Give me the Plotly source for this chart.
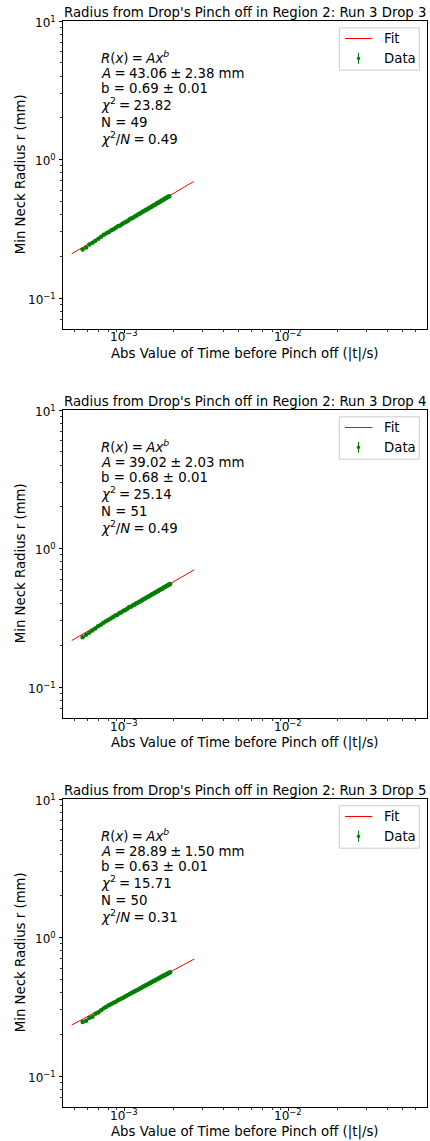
import math
import plotly.graph_objects as go

W, H = 430, 1141
FONT = "DejaVu Sans"

titles = [
    "Radius from Drop's Pinch off in Region 2: Run 3 Drop 3",
    "Radius from Drop's Pinch off in Region 2: Run 3 Drop 4",
    "Radius from Drop's Pinch off in Region 2: Run 3 Drop 5",
]
x_label = "Abs Value of Time before Pinch off (|t|/s)"
y_label = "Min Neck Radius r (mm)"

# ---- Data (time before pinch-off in ms, min neck radius in mm) ----
t1_ms = [0.557, 0.585, 0.612, 0.640, 0.667, 0.695, 0.722, 0.750, 0.778, 0.805,
         0.833, 0.860, 0.888, 0.915, 0.943, 0.971, 0.998, 1.026, 1.053, 1.081,
         1.108, 1.136, 1.164, 1.191, 1.219, 1.246, 1.274, 1.301, 1.329, 1.357,
         1.384, 1.412, 1.439, 1.467, 1.494, 1.522, 1.550, 1.577, 1.605, 1.632,
         1.660, 1.687, 1.715, 1.743, 1.770, 1.798, 1.825, 1.853, 1.880]
r1 = [0.224, 0.232, 0.243, 0.251, 0.259, 0.268, 0.277, 0.286, 0.294, 0.300,
      0.308, 0.314, 0.322, 0.330, 0.334, 0.343, 0.350, 0.355, 0.362, 0.370,
      0.376, 0.381, 0.389, 0.395, 0.402, 0.407, 0.414, 0.421, 0.426, 0.433,
      0.438, 0.445, 0.451, 0.456, 0.463, 0.469, 0.474, 0.481, 0.487, 0.492,
      0.498, 0.505, 0.510, 0.515, 0.522, 0.527, 0.532, 0.538, 0.543]

t2_ms = [0.557, 0.584, 0.611, 0.638, 0.665, 0.692, 0.719, 0.746, 0.773, 0.800,
         0.827, 0.854, 0.881, 0.908, 0.934, 0.961, 0.988, 1.015, 1.042, 1.069,
         1.096, 1.123, 1.150, 1.177, 1.204, 1.231, 1.258, 1.285, 1.312, 1.339,
         1.366, 1.393, 1.420, 1.447, 1.474, 1.501, 1.528, 1.555, 1.582, 1.609,
         1.635, 1.662, 1.689, 1.716, 1.743, 1.770, 1.797, 1.824, 1.851, 1.878,
         1.905]
r2 = [0.229, 0.238, 0.247, 0.256, 0.265, 0.275, 0.282, 0.291, 0.298, 0.306,
      0.313, 0.320, 0.329, 0.333, 0.342, 0.347, 0.356, 0.360, 0.368, 0.376,
      0.380, 0.388, 0.392, 0.401, 0.405, 0.413, 0.417, 0.425, 0.431, 0.435,
      0.443, 0.447, 0.455, 0.459, 0.467, 0.471, 0.478, 0.483, 0.490, 0.494,
      0.501, 0.505, 0.511, 0.517, 0.522, 0.528, 0.533, 0.538, 0.545, 0.549,
      0.554]

t3_ms = [0.557, 0.585, 0.612, 0.640, 0.667, 0.695, 0.722, 0.750, 0.777, 0.805,
         0.832, 0.860, 0.887, 0.915, 0.942, 0.970, 0.997, 1.025, 1.052, 1.080,
         1.107, 1.135, 1.162, 1.190, 1.217, 1.245, 1.272, 1.300, 1.327, 1.355,
         1.382, 1.410, 1.437, 1.465, 1.492, 1.520, 1.547, 1.575, 1.602, 1.630,
         1.657, 1.685, 1.712, 1.740, 1.767, 1.795, 1.822, 1.850, 1.877, 1.905]
r3 = [0.245, 0.251, 0.262, 0.268, 0.282, 0.287, 0.299, 0.308, 0.316, 0.324,
      0.331, 0.338, 0.344, 0.352, 0.358, 0.365, 0.371, 0.378, 0.385, 0.391,
      0.397, 0.404, 0.410, 0.416, 0.422, 0.429, 0.434, 0.441, 0.446, 0.453,
      0.458, 0.464, 0.469, 0.476, 0.481, 0.487, 0.492, 0.498, 0.503, 0.509,
      0.514, 0.520, 0.525, 0.531, 0.535, 0.541, 0.546, 0.551, 0.556, 0.561]

r_err = [0.006, 0.006, 0.006]  # error bar half-height (mm) per panel

# Fit lines (end points as drawn)
fit_t = [[4.78e-4, 2.65e-3], [4.78e-4, 2.67e-3], [4.78e-4, 2.67e-3]]
fit_r = [[0.2085, 0.694], [0.2167, 0.702], [0.2335, 0.6995]]

# Fit statistics text
A_txt = ["43.06", "39.02", "28.89"]
A_err = ["2.38", "2.03", "1.50"]
b_txt = ["0.69 ± 0.01", "0.68 ± 0.01", "0.63 ± 0.01"]
chi2_txt = ["23.82", "25.14", "15.71"]
N_txt = ["49", "51", "50"]
chi2N_txt = ["0.49", "0.49", "0.31"]

# Ticks
x_tickvals = [1e-3, 1e-2]
x_ticktext = ["10<sup>−3</sup>", "10<sup>−2</sup>"]
x_minor = [5e-4, 6e-4, 7e-4, 8e-4, 9e-4, 2e-3, 3e-3, 4e-3, 5e-3, 6e-3, 7e-3,
           8e-3, 9e-3, 2e-2, 3e-2, 4e-2, 5e-2, 6e-2, 7e-2]
y_tickvals = [0.1, 1, 10]
y_ticktext = ["10<sup>−1</sup>", "10<sup>0</sup>", "10<sup>1</sup>"]
y_minor = [0.07, 0.08, 0.09, 0.2, 0.3, 0.4, 0.5, 0.6, 0.7, 0.8, 0.9,
           2, 3, 4, 5, 6, 7, 8, 9]

times = [[v * 1e-3 for v in t1_ms], [v * 1e-3 for v in t2_ms], [v * 1e-3 for v in t3_ms]]
radii = [r1, r2, r3]

# ---- Layout geometry (pixels) ----
AX_L, AX_R = 63.3, 426.7
TOP0, STEP, AX_H = 21.0, 389.0, 307.5
GREEN = "#008000"
FS = 13.3
SP = "\u2005"  # narrower math-style space

fig = go.Figure()
annotations = []
shapes = []


def px(x):
    return x / W


def py(y):
    return 1 - y / H


def ann(text, x, y, xanchor="left", yanchor="middle", size=FS, angle=0):
    return dict(text=text, x=px(x), y=py(y), xref="paper", yref="paper",
                xanchor=xanchor, yanchor=yanchor, showarrow=False,
                textangle=angle,
                font=dict(family=FONT, size=size, color="black"))


axis_common = dict(showline=True, mirror=True, linecolor="black", linewidth=1,
                   ticks="outside", ticklen=3.5, tickwidth=1, tickcolor="black",
                   showgrid=False, zeroline=False, tickmode="array",
                   showticklabels=False)

for i in range(3):
    n = i + 1
    top = TOP0 + STEP * i
    bot = top + AX_H
    xa = "x" if n == 1 else f"x{n}"
    ya = "y" if n == 1 else f"y{n}"

    fig.add_trace(go.Scatter(x=fit_t[i], y=fit_r[i], mode="lines",
                             line=dict(color="red", width=1),
                             xaxis=xa, yaxis=ya, showlegend=False,
                             hoverinfo="skip"))
    fig.add_trace(go.Scatter(x=times[i], y=radii[i], mode="markers",
                             marker=dict(color=GREEN, size=4.5),
                             error_y=dict(type="constant", value=r_err[i],
                                          color=GREEN, thickness=1, width=0),
                             xaxis=xa, yaxis=ya, showlegend=False,
                             hoverinfo="skip"))

    fig.layout[f"xaxis{n if n > 1 else ''}"] = dict(
        axis_common, type="log", range=[-3.372, -1.156],
        domain=[AX_L / W, AX_R / W], anchor=ya, tickvals=x_tickvals,
        minor=dict(tickmode="array", tickvals=x_minor, ticks="outside",
                   ticklen=2, tickwidth=0.8, tickcolor="black", showgrid=False))
    fig.layout[f"yaxis{n if n > 1 else ''}"] = dict(
        axis_common, type="log", range=[-1.22, 1.0],
        domain=[py(bot), py(top)], anchor=xa, tickvals=y_tickvals,
        minor=dict(tickmode="array", tickvals=y_minor, ticks="outside",
                   ticklen=2, tickwidth=0.8, tickcolor="black", showgrid=False))

    # tick labels placed through the axes' own scales
    for v, t in zip(x_tickvals, x_ticktext):
        annotations.append(dict(text=t, x=math.log10(v), y=0, xref=xa,
                                yref=f"{ya} domain", xanchor="center",
                                yanchor="middle", yshift=-8.0, showarrow=False,
                                font=dict(family=FONT, size=12, color="black")))
    for v, t in zip(y_tickvals, y_ticktext):
        annotations.append(dict(text=t, x=0, y=math.log10(v),
                                xref=f"{xa} domain", yref=ya, xanchor="right",
                                yanchor="middle", xshift=-5, yshift=-0.5,
                                showarrow=False,
                                font=dict(family=FONT, size=12, color="black")))

    # title and axis labels
    annotations.append(ann(titles[i], (AX_L + AX_R) / 2, top - 8.5,
                           xanchor="center"))
    annotations.append(ann(x_label, (AX_L + AX_R) / 2, bot + 25.5,
                           xanchor="center"))
    annotations.append(ann(y_label, 20.5, top + AX_H / 2,
                           xanchor="center", angle=-90))

    # stats text block
    lines = [
        f"<i>R</i>(<i>x</i>){SP}={SP}<i>Ax</i><sup><i>b</i></sup>",
        f"<i>A</i>{SP}={SP}{A_txt[i]}{SP}±{SP}{A_err[i]} mm",
        f"b = {b_txt[i]}",
        f"<i>χ</i><sup>2</sup>{SP}={SP}{chi2_txt[i]}",
        f"N = {N_txt[i]}",
        f"<i>χ</i><sup>2</sup>/<i>N</i>{SP}={SP}{chi2N_txt[i]}",
    ]
    offs = [36.0, 52.3, 67.2, 83.3, 101.7, 116.8]
    for txt, o in zip(lines, offs):
        annotations.append(ann(txt, 98.5, top + o))

    # legend box
    shapes.append(dict(type="rect", xref="paper", yref="paper",
                       x0=px(339.3), x1=px(419.3), y0=py(top + 6.8), y1=py(top + 49.2),
                       line=dict(color="#cccccc", width=1),
                       fillcolor="rgba(255,255,255,0.8)", layer="above"))
    shapes.append(dict(type="line", xref="paper", yref="paper",
                       x0=px(345), x1=px(372.3), y0=py(top + 17.5), y1=py(top + 17.5),
                       line=dict(color="red", width=1)))
    shapes.append(dict(type="line", xref="paper", yref="paper",
                       x0=px(358.5), x1=px(358.5), y0=py(top + 31.8), y1=py(top + 42.8),
                       line=dict(color=GREEN, width=1)))
    shapes.append(dict(type="circle", xref="paper", yref="paper",
                       x0=px(357.0), x1=px(360.0), y0=py(top + 35.8), y1=py(top + 38.8),
                       line=dict(color=GREEN, width=0.5), fillcolor=GREEN))
    annotations.append(ann("Fit", 381.5, top + 17.5))
    annotations.append(ann("Data", 381.5, top + 37.3))

fig.update_layout(width=W, height=H, autosize=False,
                  margin=dict(l=0, r=0, t=0, b=0),
                  paper_bgcolor="white", plot_bgcolor="white",
                  font=dict(family=FONT, color="black"),
                  annotations=annotations, shapes=shapes, showlegend=False)

fig.write_html(
    "out.html",
    config={"displayModeBar": False, "staticPlot": True},
    post_script="document.body.style.margin='0';document.body.style.overflow='hidden';",
)
